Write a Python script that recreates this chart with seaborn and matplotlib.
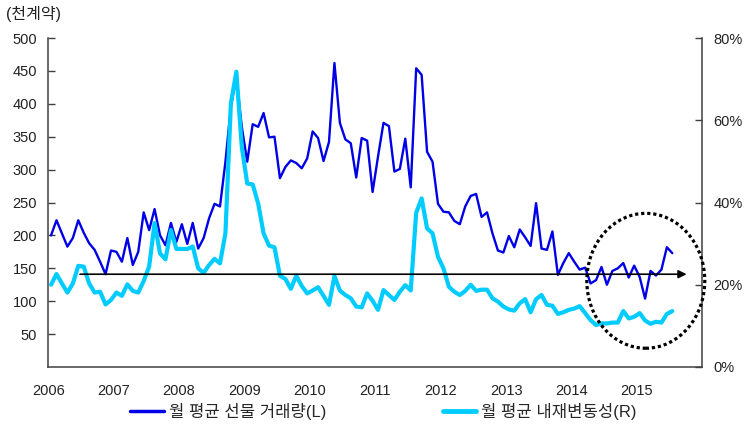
import matplotlib
matplotlib.use("Agg")
import numpy as np
import pandas as pd
import matplotlib.pyplot as plt
import seaborn as sns
from matplotlib.patches import Ellipse
from matplotlib.lines import Line2D

# ---- data (monthly, Jan 2006 - Jul 2015) ----
volume = [
    200, 223, 203, 183, 196, 223, 204, 188, 178, 160, 141, 177,   # 2006
    175, 160, 196, 155, 175, 235, 208, 240, 200, 185, 219, 190,   # 2007
    217, 187, 219, 180, 196, 226, 248, 244, 312, 396, 441, 365,   # 2008
    312, 369, 365, 386, 349, 350, 287, 304, 314, 310, 302, 317,   # 2009
    358, 348, 313, 342, 462, 371, 346, 340, 288, 348, 344, 266,   # 2010
    320, 371, 366, 297, 301, 347, 273, 454, 444, 327, 312, 248,   # 2011
    236, 235, 222, 217, 244, 260, 263, 228, 235, 203, 177, 174,   # 2012
    199, 182, 209, 197, 184, 249, 180, 178, 206, 140, 158, 173,   # 2013
    160, 148, 151, 127, 132, 152, 125, 146, 150, 158, 136, 154,   # 2014
    137, 104, 146, 139, 148, 182, 173,                            # 2015
]
implied_vol = [
    20.0, 22.6, 20.3, 18.1, 20.3, 24.6, 24.4, 20.3, 18.1, 18.3, 15.2, 16.3,
    18.1, 17.3, 20.1, 18.5, 18.1, 20.9, 24.4, 35.0, 27.6, 26.2, 33.3, 28.7,
    28.7, 28.7, 29.3, 24.0, 22.9, 24.8, 26.3, 25.2, 32.5, 64.1, 71.8, 53.5,
    44.6, 44.4, 39.8, 32.5, 29.5, 29.1, 22.2, 21.4, 19.0, 22.2, 19.7, 17.9,
    18.6, 19.4, 17.3, 15.1, 22.1, 18.6, 17.5, 16.7, 14.7, 14.5, 17.9, 16.1,
    13.9, 18.7, 17.5, 16.3, 18.3, 19.9, 18.6, 37.5, 41.0, 33.7, 32.5, 26.8,
    24.0, 19.5, 18.3, 17.5, 18.5, 20.0, 18.5, 18.8, 18.8, 16.7, 15.9, 14.7,
    14.0, 13.7, 15.5, 16.5, 13.3, 16.5, 17.5, 15.1, 14.9, 12.9, 13.3, 13.9,
    14.2, 14.8, 13.1, 11.4, 10.2, 10.6, 10.6, 10.8, 10.8, 13.6, 11.8, 12.2,
    13.1, 11.3, 10.5, 11.0, 10.8, 12.9, 13.6,
]
years = list(range(2006, 2017))
year_labels = [str(y) for y in years[:-1]] + [""]
left_ticks = list(range(50, 501, 50))
right_ticks = [0, 20, 40, 60, 80]
right_labels = [f"{v}%" for v in right_ticks]
label_vol = "월 평균 선물 거래량(L)"
label_iv = "월 평균 내재변동성(R)"
unit_label = "(천계약)"

DARK = "#0000E6"
CYAN = "#00CCFF"
SPINE = "#404040"

sns.set_style("white")
plt.rcParams["font.family"] = ["Liberation Sans", "Noto Sans CJK KR"]
plt.rcParams["font.size"] = 10

t = 2006 + (np.arange(len(volume)) + 0.5) / 12
df = pd.DataFrame({"t": t, "vol": volume, "iv": implied_vol})

fig = plt.figure(figsize=(7.48, 4.32), dpi=100)
ax = fig.add_axes([0.0646, 0.1505, 0.8743, 0.7615])
sns.lineplot(data=df, x="t", y="vol", ax=ax, color=DARK, lw=1.7, legend=False)
ax2 = ax.twinx()
sns.lineplot(data=df, x="t", y="iv", ax=ax2, color=CYAN, lw=3.0, legend=False)

ax.set_xlim(2006, 2016)
ax.set_ylim(0, 500)
ax2.set_ylim(0, 80)
ax.set_xticks(years)
ax.set_xticklabels(year_labels)
ax.set_yticks(left_ticks)
ax2.set_yticks(right_ticks)
ax2.set_yticklabels(right_labels)
for a in (ax, ax2):
    a.set_xlabel("")
    a.set_ylabel("")
    a.spines["top"].set_visible(False)
    for s in ("left", "right", "bottom"):
        a.spines[s].set_color(SPINE)
        a.spines[s].set_linewidth(1.1)
ax.spines["right"].set_visible(False)
ax2.spines["left"].set_visible(False)
ax2.spines["bottom"].set_visible(False)

ax.tick_params(axis="x", direction="in", length=5, width=1, color=SPINE,
               pad=12, labelsize=10.5, labelcolor="#222222")
ax.tick_params(axis="y", direction="in", length=5, width=1, color=SPINE,
               pad=8, labelsize=10.5, labelcolor="#222222")
ax2.tick_params(axis="y", direction="in", length=5, width=1, color=SPINE,
                pad=8, labelsize=10.5, labelcolor="#222222")

# arrow (left-axis units)
ax2.annotate("", xy=(2015.76, 141), xycoords=ax.transData,
             xytext=(2006.485, 141), textcoords=ax.transData,
             arrowprops=dict(arrowstyle="-|>", color="black", lw=1.2,
                             mutation_scale=12, shrinkA=0, shrinkB=0),
             zorder=10)

# dotted ellipse
ell = Ellipse((2015.136, 131), width=1.804, height=205, transform=ax.transData,
              fill=False, edgecolor="black", lw=2.3, linestyle=(0, (1, 0.9)),
              clip_on=False, zorder=10)
ell.set_capstyle("butt")
ax2.add_patch(ell)

fig.text(0.008, 0.967, unit_label, ha="left", va="center", fontsize=11.5,
         color="#222222")

handles = [Line2D([], [], color=DARK, lw=2.5), Line2D([], [], color=CYAN, lw=3.5)]
fig.legend(handles, [label_vol, label_iv], loc="center",
           bbox_to_anchor=(0.5127, 0.047), ncol=2, frameon=False,
           handlelength=2.0, handletextpad=0.3, columnspacing=7.0, fontsize=12)

fig.savefig("out.png", dpi=100)
